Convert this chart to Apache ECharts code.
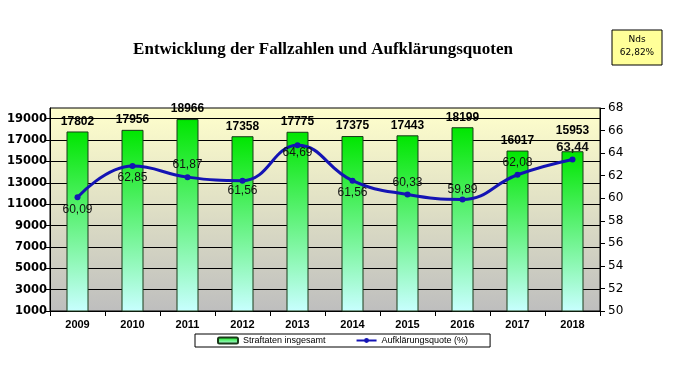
<!DOCTYPE html>
<html><head><meta charset="utf-8">
<script src="https://cdn.jsdelivr.net/npm/echarts@6/dist/echarts.min.js"></script>
<style>html,body{margin:0;padding:0;background:#fff}#c{width:684px;height:388px}</style>
</head><body><div id="c"></div>
<script>
const years = ['2009','2010','2011','2012','2013','2014','2015','2016','2017','2018'];
const straftaten = [17802,17956,18966,17358,17775,17375,17443,18199,16017,15953];
const quote = [60.09,62.85,61.87,61.56,64.69,61.56,60.33,59.89,62.08,63.44];
const quotePos = ['bottom','bottom','top','bottom','bottom','bottom','top','top','top','top'];
const leftTicks = [1000,3000,5000,7000,9000,11000,13000,15000,17000,19000];

const chart = echarts.init(document.getElementById('c'));
const fmt = v => v.toFixed(2).replace('.', ',');
chart.setOption({
  animation: false,
  title: {
    text: 'Entwicklung der Fallzahlen und Aufklärungsquoten',
    left: 318, top: 36, textAlign: 'center',
    textStyle: {fontFamily: 'Liberation Serif', fontWeight: 'bold', fontSize: 17, color: '#000'}
  },
  graphic: [
    {type: 'rect', shape: {x: 612, y: 30, width: 50, height: 35},
     style: {fill: '#FFFF99', stroke: '#000', lineWidth: 1}},
    {type: 'text', x: 637, y: 40, style: {text: 'Nds', fontFamily: 'DejaVu Sans', fontSize: 9, fill: '#000', align: 'center', verticalAlign: 'middle'}},
    {type: 'text', x: 637, y: 53, style: {text: '62,82%', fontFamily: 'DejaVu Sans', fontSize: 9, fill: '#000', align: 'center', verticalAlign: 'middle'}}
  ],
  legend: {
    left: 195, top: 334, width: 290,
    borderColor: '#000', borderWidth: 1, padding: [2, 22, 2, 22],
    itemGap: 30, itemWidth: 20, itemHeight: 6,
    textStyle: {fontFamily: 'Liberation Sans', fontSize: 9, color: '#000'},
    data: ['Straftaten insgesamt', 'Aufklärungsquote (%)']
  },
  grid: {left: 50, right: 84, top: 108, bottom: 77, show: true,
    backgroundColor: new echarts.graphic.LinearGradient(0,0,0,1,[{offset:0,color:'#FFFFCC'},{offset:1,color:'#BEBEBE'}]),
    borderColor: '#000', borderWidth: 1},
  xAxis: {
    type: 'category', data: years,
    axisLine: {lineStyle: {color: '#000'}},
    axisTick: {show: true, inside: false, length: 5, lineStyle: {color: '#000'}},
    axisLabel: {fontFamily: 'Liberation Sans', fontWeight: 'bold', fontSize: 11, color: '#000', margin: 8}
  },
  yAxis: [
    {type: 'value', min: 1000, max: 20000,
     axisLine: {show: true, lineStyle: {color: '#000'}},
     axisTick: {show: true, length: 4, customValues: leftTicks, lineStyle: {color: '#000'}},
     axisLabel: {customValues: leftTicks, formatter: v => String(v), fontFamily: 'DejaVu Sans', fontWeight: 'bold', fontSize: 11.5, color: '#000', margin: 3},
     splitLine: {show: true, lineStyle: {color: '#000', width: 1}}},
    {type: 'value', min: 50, max: 68, interval: 2, position: 'right',
     axisLine: {show: true, lineStyle: {color: '#000'}},
     axisTick: {show: true, length: 5, lineStyle: {color: '#000'}},
     axisLabel: {formatter: v => String(v), fontFamily: 'DejaVu Sans', fontSize: 12, color: '#000', margin: 8},
     splitLine: {show: false}}
  ],
  series: [
    {name: 'Straftaten insgesamt', type: 'bar', yAxisIndex: 0, barWidth: 22,
     data: straftaten.map((v, i) => i === 9 ? {value: v, label: {distance: 15}} : v),
     itemStyle: {color: new echarts.graphic.LinearGradient(0,0,0,1,[{offset:0,color:'#00E600'},{offset:1,color:'#C8FFFF'}]),
       borderColor: '#1A3A1A', borderWidth: 1},
     label: {show: true, position: 'top', distance: 4, fontFamily: 'Liberation Sans', fontWeight: 'bold', fontSize: 12, color: '#000'}},
    {name: 'Aufklärungsquote (%)', type: 'line', yAxisIndex: 1, smooth: 0.45,
     data: quote.map((v, i) => ({value: v, label: {position: quotePos[i],
        distance: i === 4 ? -2 : (i === 3 || i === 7) ? 1 : 3,
        fontSize: i === 9 ? 13 : 12, fontWeight: i === 9 ? 'bold' : 'normal'}})),
     symbol: 'circle', symbolSize: 6,
     lineStyle: {color: '#1414B4', width: 3},
     itemStyle: {color: '#1414B4'},
     label: {show: true, fontFamily: 'Liberation Sans', fontSize: 12, color: '#111', formatter: p => fmt(p.value)}}
  ]
});
</script></body></html>
